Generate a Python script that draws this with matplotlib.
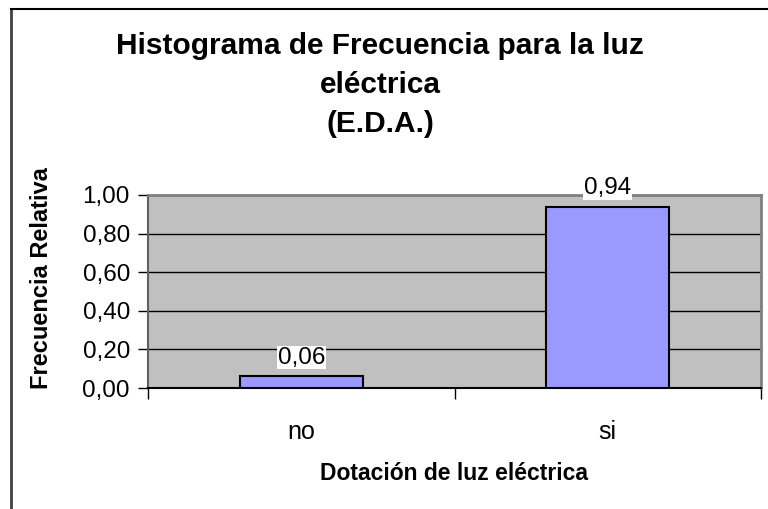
import matplotlib.pyplot as plt
from matplotlib.lines import Line2D
from matplotlib.ticker import FuncFormatter, FixedLocator

categorias = ['no', 'si']
frecuencia = [0.06, 0.94]
yticks = [0.0, 0.2, 0.4, 0.6, 0.8, 1.0]

plt.rcParams['font.family'] = ['Liberation Sans', 'DejaVu Sans']

fig = plt.figure(figsize=(7.68, 5.09), dpi=100)
W, H = 768, 509
ax = fig.add_axes([148 / W, 1 - 388 / H, (761 - 148) / W, (388 - 195) / H])
ax.set_facecolor('#c0c0c0')

x = list(range(len(categorias)))
ax.bar(x, frecuencia, width=0.4, color='#9999ff', edgecolor='black', linewidth=1.5, zorder=3)

ax.set_xlim(-0.5, len(categorias) - 0.5)
ax.set_ylim(0, 1.0)
ax.set_yticks(yticks)
ax.yaxis.set_major_formatter(FuncFormatter(lambda v, p: ('%.2f' % v).replace('.', ',')))
ax.yaxis.grid(True, color='black', linewidth=1)
ax.set_axisbelow(True)

# ticks between categories, labels centred
ax.xaxis.set_major_locator(FixedLocator([-0.5, 0.5, 1.5]))
ax.xaxis.set_major_formatter(FuncFormatter(lambda v, p: ''))
ax.xaxis.set_minor_locator(FixedLocator(x))
ax.set_xticklabels(categorias, minor=True)
ax.tick_params(axis='x', which='major', length=8, width=1, color='black')
ax.tick_params(axis='x', which='minor', length=0, labelsize=18, pad=23)
ax.tick_params(axis='y', length=7, width=1, labelsize=17.5, pad=6)

for s in ['top', 'right']:
    ax.spines[s].set_color('#808080')
    ax.spines[s].set_linewidth(2)
ax.spines['left'].set_color('#606060')
ax.spines['left'].set_linewidth(1.5)
ax.spines['bottom'].set_color('black')
ax.spines['bottom'].set_linewidth(1.5)

for xi, v in zip(x, frecuencia):
    ax.text(xi, v + 0.04, ('%.2f' % v).replace('.', ','), ha='center', va='bottom',
            fontsize=17.5, zorder=5,
            bbox=dict(facecolor='white', edgecolor='none', pad=0.5))

ax.set_ylabel('Frecuencia Relativa', fontsize=17, fontweight='bold', labelpad=12)
ax.yaxis.set_label_coords(-0.155, 0.57)
ax.set_xlabel('Dotación de luz eléctrica', fontsize=16.5, fontweight='bold', labelpad=13)

fig.text(0.495, 1 - 85 / H, 'Histograma de Frecuencia para la luz\neléctrica\n(E.D.A.)',
         ha='center', va='center', fontsize=21.5, fontweight='bold', linespacing=1.5)

# outer chart frame (left and top)
fig.add_artist(Line2D([11 / W, 11 / W], [0, 1 - 9 / H], color='#404040', linewidth=2))
fig.add_artist(Line2D([11 / W, 1], [1 - 9 / H, 1 - 9 / H], color='black', linewidth=1.5))

fig.savefig('out.png', dpi=100)
